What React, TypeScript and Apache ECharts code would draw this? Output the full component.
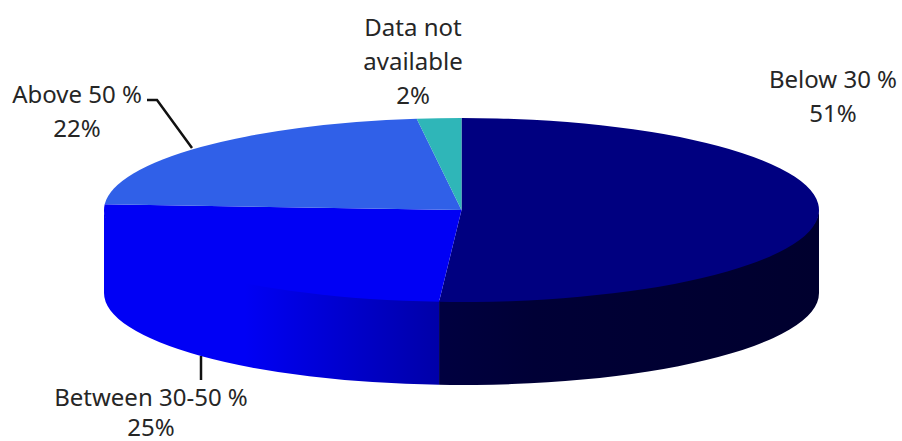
import React, { useEffect, useRef } from "react";
import * as echarts from "echarts";

// Share of respondents per band, clockwise from twelve o'clock.
const categories = ["Below 30 %", "Between 30-50 %", "Above 50 %", "Data not available"];
const shares = [51, 25, 22, 2];
const shareLabels = ["51%", "25%", "22%", "2%"];

const topColors = ["#000080", "#0000F5", "#3060E8", "#2FB6B8"];

// Disc projection in pixels.
const CX = 461.5;
const CY = 210;
const RX = 357.5;
const RY = 92;
const DEPTH = 83;
const WALL_OVERLAP = 1.5;

const FONT = '24px "Noto Sans", sans-serif';
const TEXT_COLOR = "#262626";

type Callout = { x: number; y: number; gap: number; lines: string[]; leader?: number[][] };

const callouts: Callout[] = [
  { x: 833, y: 78, gap: 34, lines: ["Below 30 %"] },
  { x: 151, y: 396, gap: 30, lines: ["Between 30-50 %"], leader: [[201, 356], [201, 380]] },
  { x: 77, y: 93, gap: 34, lines: ["Above 50 %"], leader: [[147, 100], [157, 100], [192, 148]] },
  { x: 413, y: 26, gap: 34, lines: ["Data not", "available"] },
];

const wallFills = [
  new echarts.graphic.LinearGradient(0, 0, 1, 0, [
    { offset: 0, color: "#000040" },
    { offset: 0.25, color: "#000036" },
    { offset: 1, color: "#00002E" },
  ]),
  new echarts.graphic.LinearGradient(0, 0, 1, 0, [
    { offset: 0, color: "#0000F5" },
    { offset: 0.42, color: "#0000F5" },
    { offset: 1, color: "#0000A8" },
  ]),
];

const rad = (pct: number) => (pct / 100) * Math.PI * 2;
const px = (a: number) => CX + RX * Math.sin(a);
const py = (a: number, drop = 0) => CY - RY * Math.cos(a) + drop;

function topPath(a0: number, a1: number) {
  const large = a1 - a0 > Math.PI ? 1 : 0;
  return `M${CX} ${CY}L${px(a0)} ${py(a0)}A${RX} ${RY} 0 ${large} 1 ${px(a1)} ${py(a1)}Z`;
}

// Only the front half of the rim (a quarter to three quarters of a turn) is visible.
// The upper arc tucks slightly under the top face so no seam shows between them.
function wallPath(a0: number, a1: number) {
  const from = Math.max(a0, Math.PI / 2);
  const to = Math.min(a1, (Math.PI * 3) / 2);
  if (to <= from) return null;
  return (
    `M${px(from)} ${py(from, -WALL_OVERLAP)}A${RX} ${RY} 0 0 1 ${px(to)} ${py(to, -WALL_OVERLAP)}` +
    `L${px(to)} ${py(to, DEPTH)}A${RX} ${RY} 0 0 0 ${px(from)} ${py(from, DEPTH)}Z`
  );
}

export default function App() {
  const ref = useRef<HTMLDivElement>(null);

  useEffect(() => {
    document.body.style.margin = "0";
    const chart = echarts.init(ref.current!, undefined, { renderer: "svg" });

    const renderItem = (params: any, api: any) => {
      const i = params.dataIndex;
      const before = shares.slice(0, i).reduce((s, v) => s + v, 0);
      const a0 = rad(before);
      const a1 = rad(before + api.value(0));
      const children: any[] = [];

      const wall = wallPath(a0, a1);
      if (wall) {
        children.push({
          type: "path",
          shape: { pathData: wall },
          style: { fill: wallFills[i] ?? topColors[i], stroke: null },
        });
      }
      children.push({
        type: "path",
        shape: { pathData: topPath(a0, a1) },
        style: { fill: topColors[i], stroke: null },
      });

      const c = callouts[i];
      [...c.lines, shareLabels[i]].forEach((line, n) => {
        children.push({
          type: "text",
          style: {
            text: line,
            x: c.x,
            y: c.y + n * c.gap,
            align: "center",
            verticalAlign: "middle",
            font: FONT,
            fill: TEXT_COLOR,
          },
        });
      });
      if (c.leader) {
        children.push({
          type: "polyline",
          shape: { points: c.leader },
          style: { stroke: "#111111", lineWidth: 2.5, fill: null },
        });
      }
      return { type: "group", children };
    };

    chart.setOption({
      animation: false,
      backgroundColor: "#ffffff",
      tooltip: { show: false },
      series: [
        {
          type: "custom",
          coordinateSystem: "none",
          renderItem,
          silent: true,
          data: shares.map((v, i) => ({ name: categories[i], value: [v] })),
        },
      ],
    });

    return () => chart.dispose();
  }, []);

  return <div ref={ref} style={{ width: 902, height: 441 }} />;
}
